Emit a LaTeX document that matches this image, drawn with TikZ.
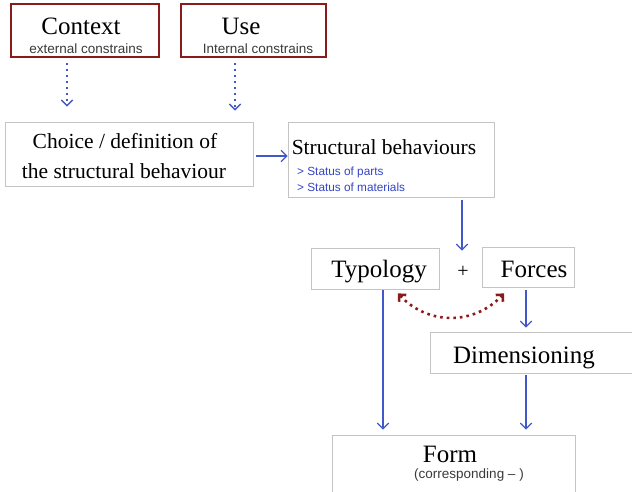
\documentclass[tikz,border=0pt]{standalone}
\usepackage{fontspec}
\setmainfont{Liberation Serif}
\setsansfont{Liberation Sans}
\usetikzlibrary{arrows.meta,calc}
\definecolor{dred}{HTML}{8B1A1A}
\definecolor{arblue}{HTML}{4258C8}
\definecolor{boxgray}{HTML}{C4C4C4}
\definecolor{subgray}{HTML}{3A3A3A}
\definecolor{stblue}{HTML}{3445C4}
\tikzset{
  box/.style={draw=boxgray,line width=0.8pt,fill=white,inner sep=0pt,minimum width=#1},
  redbox/.style={draw=dred,line width=2.6pt,fill=white,inner sep=0pt,minimum width=#1,minimum height=53pt},
  big/.style={anchor=base,inner sep=0pt,font=\fontsize{25}{28}\selectfont},
  mid/.style={anchor=base,inner sep=0pt,font=\fontsize{21.5}{24}\selectfont},
  subt/.style={anchor=base,inner sep=0pt,text=subgray,font=\sffamily\fontsize{13.5}{15}\selectfont},
  stat/.style={anchor=base west,inner sep=0pt,text=stblue,font=\sffamily\fontsize{11.8}{13}\selectfont},
  flow/.style={draw=arblue,line width=1.2pt,-{Straight Barb[angle=90:8pt,line width=1.2pt]}},
  dotflow/.style={draw=arblue,line width=2pt,dash pattern=on 2pt off 4pt,-{Straight Barb[angle=90:8pt,line width=1.4pt]}},
  redflow/.style={draw=dred,line width=2.6pt,dash pattern=on 2.6pt off 4pt,{Straight Barb[angle=90:7pt,line width=2.6pt]}-{Straight Barb[angle=90:7pt,line width=2.6pt]}}
}
\begin{document}
\begin{tikzpicture}[x=1pt,y=-1pt]
\useasboundingbox (0,0) rectangle (632,491);
\fill[white] (0,0) rectangle (632,491);
\begin{scope}
\clip (0,0) rectangle (632,491);
% boxes
\node[redbox=148pt] (ctx) at (85,30.5) {};
\node[redbox=145pt] (use) at (253.5,30.5) {};
\node[box=248pt,minimum height=64pt] (choice) at (129,154) {};
\node[box=206pt,minimum height=75pt] (sb) at (391,159.5) {};
\node[box=128pt,minimum height=41pt] (typ) at (375,268.5) {};
\node[box=92pt,minimum height=40pt] (forces) at (528,267) {};
\node[box=215pt,minimum height=41pt] (dim) at (537.5,352.5) {};
\node[box=243pt,minimum height=75pt] (form) at (453.5,472.5) {};
% texts
\node[big] (tctx) at (81,34) {Context};
\node[subt] (sctx) at (86,53) {external constrains};
\node[big] (tuse) at (241,34) {Use};
\node[subt] (suse) at (258,53) {Internal constrains};
\node[mid] (tch1) at (125,148) {Choice / definition of};
\node[mid] (tch2) at (124,178) {the structural behaviour};
\node[mid] (tsb) at (384,154) {Structural behaviours};
\node[stat] (s1) at (297,175) {> Status of parts};
\node[stat] (s2) at (297,191) {> Status of materials};
\node[big] (ttyp) at (379,277) {Typology};
\node[anchor=base,inner sep=0pt,font=\fontsize{20}{22}\selectfont] (plus) at (463,277) {+};
\node[big] (tfor) at (534,277) {Forces};
\node[big] (tdim) at (524,363) {Dimensioning};
\node[big] (tform) at (450,462) {Form};
\node[subt] (sform) at (469,478) {(corresponding -- )};
% connectors
\draw[dotflow] ($(ctx.south)+(-18,5)$) -- ($(choice.north)+(-62,-15)$);
\draw[dotflow] ($(use.south)+(-18.5,5)$) -- ($(choice.north)+(106,-11)$);
\draw[flow] ($(choice.east)+(3,2)$) -- ($(choice.east -| sb.west)+(0,2)$);
\draw[flow] ($(sb.south -| plus)+(-1,3)$) -- ($(typ.north -| plus)+(-1,3)$);
\draw[flow] ($(forces.south)+(-2,3)$) -- ($(forces.south |- dim.north)+(-2,-4)$);
\draw[flow] ($(typ.south)+(8,1)$) -- ($(typ.south |- form.north)+(8,-5)$);
\draw[flow] ($(dim.south)+(-11.5,2)$) -- ($(dim.south |- form.north)+(-11.5,-5)$);
\draw[redflow] ($(typ.south)+(23,4)$) .. controls +(30,32) and +(-30,32) .. ($(forces.south)+(-24,6)$);
\end{scope}
\end{tikzpicture}
\end{document}
